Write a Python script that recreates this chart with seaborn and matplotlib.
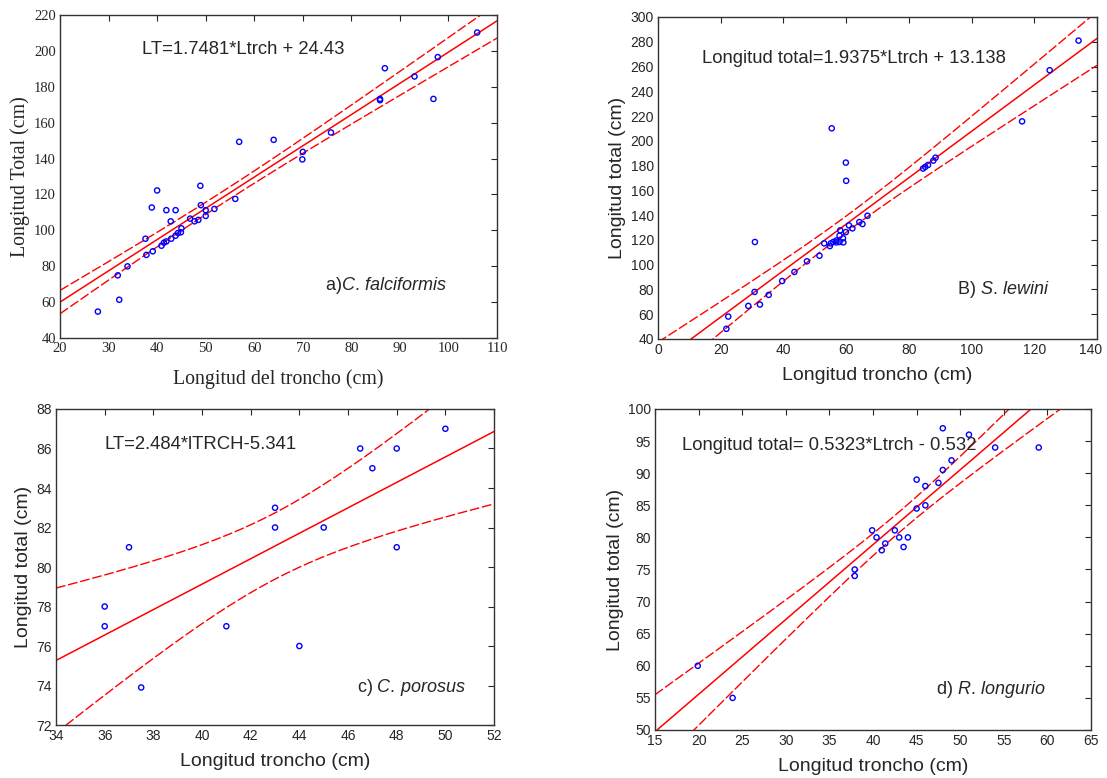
import numpy as np
import pandas as pd
import matplotlib
matplotlib.use("Agg")
import matplotlib.pyplot as plt
import matplotlib.transforms as mtransforms
import seaborn as sns

# a) C. falciformis
a_ltrch = [27.8, 31.9, 32.2, 33.9, 37.6, 37.8, 39.1, 38.9, 40.0, 40.9, 41.4, 41.9, 41.9, 42.8,
           42.9, 43.8, 43.8, 44.3, 44.9, 45.0, 46.8, 47.7, 48.5, 48.9, 49.0, 50.0, 50.0, 51.8,
           56.1, 56.9, 64.0, 70.0, 69.9, 75.8, 85.9, 85.9, 86.9, 93.0, 96.9, 97.8, 105.9]
a_lt = [54.7, 74.9, 61.3, 79.9, 95.3, 86.3, 88.3, 112.7, 122.2, 91.4, 93.1, 93.8, 111.2, 105.0,
        95.3, 97.0, 111.2, 98.5, 98.9, 101.1, 106.5, 105.0, 105.8, 124.8, 114.0, 111.2, 108.0, 111.9,
        117.5, 149.3, 150.4, 143.7, 139.5, 154.5, 173.2, 172.5, 190.3, 185.7, 173.2, 196.5, 210.2]

# B) S. lewini
b_ltrch = [21.8, 22.4, 28.8, 30.8, 30.9, 32.5, 35.3, 39.6, 43.5, 47.5, 51.5, 53.0, 54.8, 55.1,
           55.4, 55.9, 56.9, 56.9, 57.9, 57.9, 58.1, 59.0, 59.1, 59.9, 59.9, 60.0, 60.9, 62.0,
           64.2, 65.2, 66.8, 84.5, 85.2, 86.1, 87.8, 88.5, 116.1, 124.9, 134.1]
b_lt = [48.2, 58.1, 66.7, 78.0, 118.3, 67.8, 75.6, 86.8, 94.1, 102.7, 107.2, 117.2, 115.0, 117.2,
        210.1, 118.3, 119.6, 118.0, 118.3, 123.4, 127.7, 121.3, 118.0, 126.3, 182.4, 167.7, 131.7, 129.3,
        134.4, 132.8, 139.5, 177.6, 178.9, 180.5, 184.0, 186.4, 215.7, 257.0, 280.9]

# c) C. porosus
c_ltrch = [36, 36, 37, 37.5, 41, 43, 43, 44, 45, 46.5, 47, 48, 48, 50]
c_lt = [78, 77, 81, 73.9, 77, 83, 82, 76, 82, 86, 85, 86, 81, 87]

# d) R. longurio
d_ltrch = [19.9, 23.9, 37.9, 37.9, 39.9, 40.4, 41.0, 41.4, 42.5, 43.0, 43.5, 44.0, 45.0, 45.0,
           46.0, 46.0, 47.5, 48.0, 48.0, 49.0, 51.0, 54.0, 59.0]
d_lt = [60.0, 55.0, 75.0, 74.0, 81.1, 80.0, 78.0, 79.05, 81.1, 80.0, 78.5, 80.0, 89.0, 84.5,
        88.0, 85.0, 88.5, 90.5, 97.0, 92.0, 96.0, 94.0, 94.0]

equations = ["LT=1.7481*Ltrch + 24.43",
             "Longitud total=1.9375*Ltrch + 13.138",
             "LT=2.484*lTRCH-5.341",
             "Longitud total= 0.5323*Ltrch - 0.532"]
species = [r"a)$\mathit{C.\,falciformis}$", r"B) $\mathit{S.\,lewini}$",
           r"c) $\mathit{C.\,porosus}$", r"d) $\mathit{R.\,longurio}$"]
xlabels = ["Longitud del troncho (cm)", "Longitud troncho (cm)",
           "Longitud troncho (cm)", "Longitud troncho (cm)"]
ylabels = ["Longitud Total (cm)", "Longitud total (cm)",
           "Longitud total (cm)", "Longitud total (cm)"]
xlims = [(20, 110), (0, 140), (34, 52), (15, 65)]
ylims = [(40, 220), (40, 300), (72, 88), (50, 100)]
xsteps = [10, 20, 2, 5]
ysteps = [20, 20, 2, 5]
t95 = [2.021, 2.026, 2.179, 2.080]  # student t, 95 %, n-2 df

sns.set_style("white")
plt.rcParams["mathtext.fontset"] = "custom"
plt.rcParams["mathtext.rm"] = "Liberation Sans"
plt.rcParams["mathtext.it"] = "Liberation Sans:italic"

fonts = ["Liberation Serif", "Liberation Sans", "Liberation Sans", "Liberation Sans"]

fig = plt.figure(figsize=(11.07, 7.78), dpi=100)
boxes = [[0.0542, 0.5656, 0.3948, 0.4152],
         [0.5944, 0.5643, 0.3966, 0.4139],
         [0.0506, 0.0681, 0.3957, 0.4062],
         [0.5917, 0.0617, 0.3939, 0.4126]]
eq_pos = [(0.188, 0.892), (0.100, 0.87), (0.110, 0.889), (0.062, 0.885)]
sp_pos = [(0.606, 0.161), (0.681, 0.155), (0.687, 0.120), (0.645, 0.125)]
xlab_pad = [10, 7, 7, 7]

panels = [(a_ltrch, a_lt), (b_ltrch, b_lt), (c_ltrch, c_lt), (d_ltrch, d_lt)]

for i, (xs, ys) in enumerate(panels):
    ax = fig.add_axes(boxes[i])
    x = np.array(xs, dtype=float)
    y = np.array(ys, dtype=float)
    df = pd.DataFrame({"x": x, "y": y})

    # OLS fit + 95% confidence band of the mean
    n = len(x)
    slope, icpt = np.polyfit(x, y, 1)
    resid = y - (slope * x + icpt)
    s = np.sqrt(np.sum(resid ** 2) / (n - 2))
    xx = np.linspace(xlims[i][0], xlims[i][1], 200)
    yy = slope * xx + icpt
    se = s * np.sqrt(1 / n + (xx - x.mean()) ** 2 / np.sum((x - x.mean()) ** 2))
    fit = pd.DataFrame({"x": xx, "y": yy, "lo": yy - t95[i] * se, "hi": yy + t95[i] * se})

    sns.lineplot(data=fit, x="x", y="y", ax=ax, color="red", lw=1.1)
    sns.lineplot(data=fit, x="x", y="lo", ax=ax, color="red", lw=1.0, linestyle=(0, (7, 2)))
    sns.lineplot(data=fit, x="x", y="hi", ax=ax, color="red", lw=1.0, linestyle=(0, (7, 2)))
    sns.scatterplot(data=df, x="x", y="y", ax=ax, marker="o", s=14,
                    facecolor="none", edgecolor="blue", linewidth=1.0, zorder=3)

    ax.set_xlim(xlims[i])
    ax.set_ylim(ylims[i])
    ax.set_xticks(np.arange(xlims[i][0], xlims[i][1] + 0.01, xsteps[i]))
    ax.set_yticks(np.arange(ylims[i][0], ylims[i][1] + 0.01, ysteps[i]))
    ax.tick_params(direction="in", top=True, right=True, length=4, width=0.8,
                   labelsize=10.5 if i == 0 else 10, pad=3)
    for lab in ax.get_xticklabels() + ax.get_yticklabels():
        lab.set_family(fonts[i])
    for sp in ax.spines.values():
        sp.set_linewidth(1.0)
        sp.set_color("#333333")

    lab_size = 14.3 if i == 0 else 14
    ax.set_xlabel(xlabels[i], family=fonts[i], fontsize=lab_size, labelpad=xlab_pad[i])
    ax.set_ylabel(ylabels[i], family=fonts[i], fontsize=lab_size, labelpad=3)

    ax.text(eq_pos[i][0], eq_pos[i][1], equations[i], transform=ax.transAxes,
            family="Liberation Sans", fontsize=13.3, va="center", ha="left")
    ax.text(sp_pos[i][0], sp_pos[i][1], species[i], transform=ax.transAxes,
            family="Liberation Sans", fontsize=13, va="center", ha="left")

    # last x tick label of panel B sits a bit to the left, as in the original
    if i == 1:
        last = ax.get_xticklabels()[-1]
        last.set_transform(last.get_transform() +
                           mtransforms.ScaledTranslation(-5 / 72, 0, fig.dpi_scale_trans))

plt.savefig("out.png", dpi=100)
plt.close()
